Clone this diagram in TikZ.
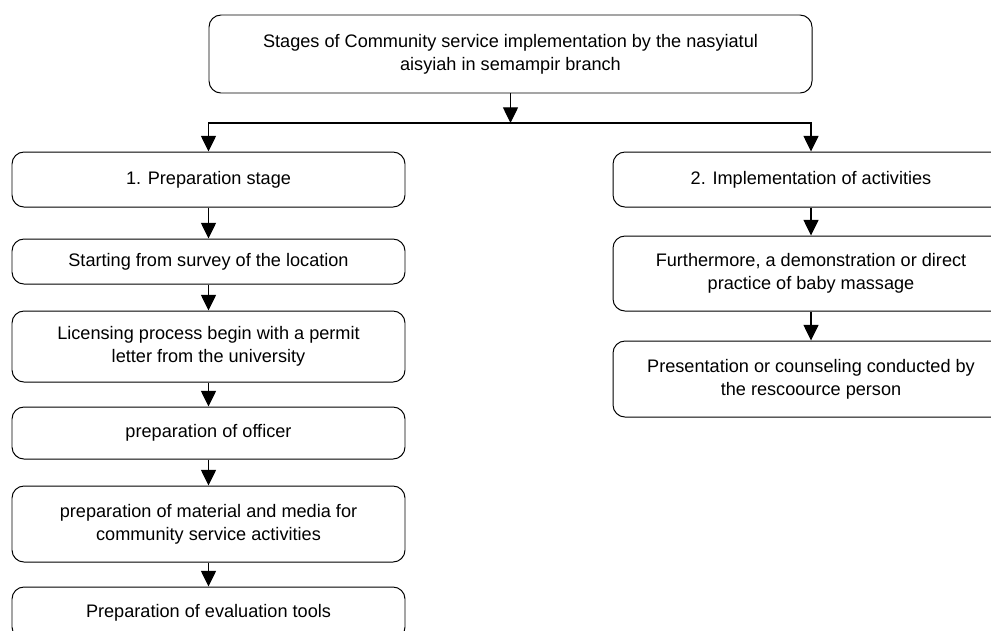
\documentclass[tikz,border=0pt]{standalone}
\usepackage{fontspec}
\setmainfont{Liberation Sans}
\usetikzlibrary{arrows.meta}
\tikzset{
  stagebox/.style={draw, line width=0.7pt, rounded corners=0.3cm, align=center,
    font=\fontsize{12.9}{16.3}\selectfont, inner sep=0pt},
  leftbox/.style={stagebox, minimum width=9.825cm},
  rightbox/.style={stagebox, minimum width=9.9cm},
  arr/.style={line width=0.8pt, -{Triangle[width=0.375cm,length=0.39cm]}}
}
\begin{document}
\begin{tikzpicture}
   \useasboundingbox (0, 0) rectangle (24.775, -15.75);
   \node[stagebox, minimum width=15.075cm, minimum height=1.95cm] (top) at (12.7625, -1.35)
     {Stages of Community service implementation by the nasyiatul\\aisyiah in semampir branch};
   \coordinate (split) at (12.7625, -3.075);
   \node[leftbox, minimum height=1.375cm] (prep) at (5.2125, -4.4875) {1. Preparation stage};
   \node[leftbox, minimum height=1.125cm] (survey) at (5.2125, -6.5375) {Starting from survey of the location};
   \node[leftbox, minimum height=1.775cm] (permit) at (5.2125, -8.6625)
     {Licensing process begin with a permit\\letter from the university};
   \node[leftbox, minimum height=1.3cm] (officer) at (5.2125, -10.825) {preparation of officer};
   \node[leftbox, minimum height=1.9cm] (media) at (5.2125, -13.1)
     {preparation of material and media for\\community service activities};
   \node[leftbox, minimum height=1.3cm] (evaltools) at (5.2125, -15.325) {Preparation of evaluation tools};
   \node[rightbox, minimum height=1.375cm] (impl) at (20.275, -4.4875) {2. Implementation of activities};
   \node[rightbox, minimum height=1.875cm] (massage) at (20.275, -6.8375)
     {Furthermore, a demonstration or direct\\practice of baby massage};
   \node[rightbox, minimum height=1.9cm] (counsel) at (20.275, -9.475)
     {Presentation or counseling conducted by\\the rescoource person};
   \draw[arr] (top) -- (split);
   \draw[arr] (split) -| (prep);
   \draw[arr] (split) -| (impl);
   \draw[arr] (prep) -- (survey);
   \draw[arr] (survey) -- (permit);
   \draw[arr] (permit) -- (officer);
   \draw[arr] (officer) -- (media);
   \draw[arr] (media) -- (evaltools);
   \draw[arr] (impl) -- (massage);
   \draw[arr] (massage) -- (counsel);
  \end{tikzpicture}
\end{document}
